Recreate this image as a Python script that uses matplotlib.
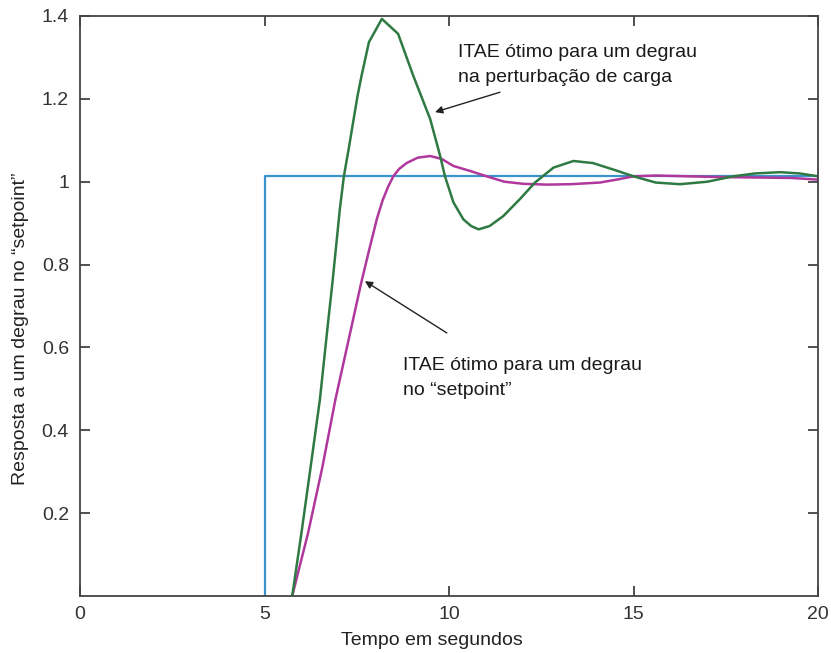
import matplotlib.pyplot as plt

plt.rcParams['font.family'] = ['Liberation Sans', 'DejaVu Sans']

# step in the setpoint
step_t = [5.0, 5.0, 20.0]
step_y = [0.0, 1.013, 1.013]

# ITAE tuned for a load disturbance step
load_t = [5.75, 6.0, 6.25, 6.5, 6.73, 6.84, 7.04, 7.15, 7.28, 7.52, 7.63, 7.83, 8.18,
          8.62, 9.03, 9.49, 9.76, 9.89, 10.12, 10.39, 10.6, 10.8, 11.1, 11.47, 11.92,
          12.33, 12.83, 13.37, 13.9, 14.5, 15.0, 15.6, 16.26, 17.0, 17.7, 18.3, 18.97,
          19.5, 20.0]
load_y = [0.0, 0.152, 0.312, 0.474, 0.667, 0.756, 0.933, 1.013, 1.079, 1.207, 1.256, 1.337, 1.393,
          1.357, 1.256, 1.151, 1.062, 1.013, 0.95, 0.909, 0.893, 0.885, 0.893, 0.917, 0.958,
          0.998, 1.034, 1.05, 1.045, 1.028, 1.013, 0.998, 0.994, 1.0, 1.013, 1.02, 1.023,
          1.02, 1.013]

# ITAE tuned for a setpoint step
sp_t = [5.75, 6.18, 6.57, 6.92, 7.3, 7.62, 7.84, 8.05, 8.2, 8.35, 8.49, 8.65, 8.85, 9.15, 9.49,
        9.8, 10.12, 10.57, 11.02, 11.5, 12.0, 12.65, 13.3, 14.09, 14.6, 15.0, 15.6,
        16.5, 17.5, 18.5, 19.3, 20.0]
sp_y = [0.0, 0.152, 0.312, 0.474, 0.627, 0.756, 0.837, 0.912, 0.955, 0.988, 1.013, 1.031, 1.045, 1.058, 1.062,
        1.055, 1.038, 1.026, 1.013, 1.0, 0.995, 0.993, 0.994, 0.998, 1.006, 1.013, 1.015,
        1.013, 1.011, 1.01, 1.009, 1.005]

fig = plt.figure(figsize=(8.31, 6.53), dpi=100)
ax = fig.add_axes([0.0963, 0.0873, 0.8881, 0.8882])

ax.plot(step_t, step_y, color='#3b93cc', lw=1.6)
ax.plot(sp_t, sp_y, color='#b0389c', lw=1.8)
ax.plot(load_t, load_y, color='#2f7a42', lw=1.8)

ax.set_xlim(0, 20)
ax.set_ylim(0, 1.4)
ax.set_xticks([0, 5, 10, 15, 20])
ax.set_xticklabels(['0', '5', '10', '15', '20'])
ax.set_yticks([0.2, 0.4, 0.6, 0.8, 1.0, 1.2, 1.4])
ax.set_yticklabels(['0.2', '0.4', '0.6', '0.8', '1', '1.2', '1.4'])
ax.tick_params(direction='in', length=7, width=1.2, top=True, right=True,
               labelsize=14, colors='#333333')
ax.tick_params(axis='x', pad=7)
ax.tick_params(axis='y', pad=8)
for s in ax.spines.values():
    s.set_color('#444444')
    s.set_linewidth(1.3)

ax.set_xlabel('Tempo em segundos', fontsize=14, color='#222222')
ax.set_ylabel('Resposta a um degrau no “setpoint”', fontsize=14, color='#222222')
ax.xaxis.set_label_coords(0.477, -0.062)
ax.yaxis.set_label_coords(-0.069, 0.46)

arrow = dict(arrowstyle='-|>', color='#222222', lw=1.0, mutation_scale=11, shrinkA=0, shrinkB=0)
ax.annotate('', xy=(9.62, 1.168), xytext=(11.38, 1.216), arrowprops=arrow)
ax.annotate('', xy=(7.72, 0.76), xytext=(9.94, 0.635), arrowprops=arrow)

ax.text(10.24, 1.241, 'ITAE ótimo para um degrau\nna perturbação de carga',
        fontsize=14, color='#1a1a1a', ha='left', va='baseline', linespacing=1.6)
ax.text(8.76, 0.486, 'ITAE ótimo para um degrau\nno “setpoint”',
        fontsize=14, color='#1a1a1a', ha='left', va='baseline', linespacing=1.6)

fig.savefig('out.png', dpi=100)
